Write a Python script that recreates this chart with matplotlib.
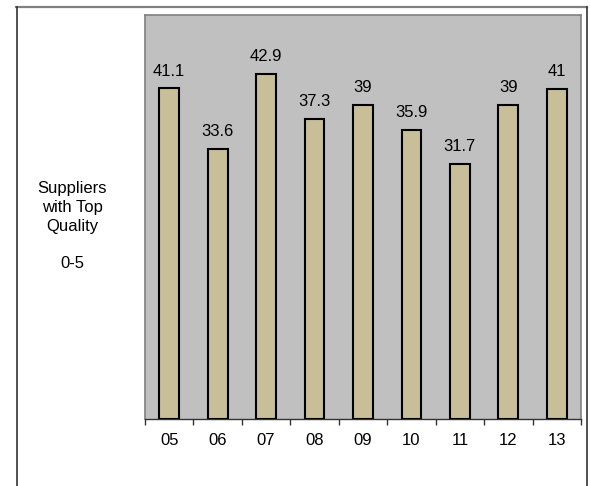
import matplotlib
matplotlib.use("Agg")
import matplotlib.pyplot as plt
from matplotlib.lines import Line2D
import numpy as np

plt.rcParams['font.family'] = ['Liberation Sans', 'DejaVu Sans']

years = ["05", "06", "07", "08", "09", "10", "11", "12", "13"]
values = [41.1, 33.6, 42.9, 37.3, 39, 35.9, 31.7, 39, 41]
value_labels = ["41.1", "33.6", "42.9", "37.3", "39", "35.9", "31.7", "39", "41"]
y_label = "Suppliers\nwith Top\nQuality\n\n0-5"

W, H = 590, 486
fig = plt.figure(figsize=(W / 100, H / 100), dpi=100)
fig.patch.set_facecolor("white")

# outer frame of the chart object
fig.add_artist(Line2D([16 / W, 587 / W], [1 - 7 / H, 1 - 7 / H], color="#808080", lw=1.6, transform=fig.transFigure))
fig.add_artist(Line2D([16.5 / W, 16.5 / W], [0, 1 - 7 / H], color="#333333", lw=1.2, transform=fig.transFigure))
fig.add_artist(Line2D([587 / W, 587 / W], [0, 1 - 7 / H], color="#333333", lw=1.2, transform=fig.transFigure))

ax = fig.add_axes([145 / W, (H - 419) / H, (581 - 145) / W, (419 - 15) / H])
ax.set_facecolor("#C0C0C0")

x = np.arange(len(years))
ax.bar(x, values, width=0.41, color="#C8BF99", edgecolor="black", linewidth=1.5, zorder=3)

for xi, v, lab in zip(x, values, value_labels):
    ax.annotate(lab, (xi, v), xytext=(0, 7), textcoords="offset points",
                ha="center", va="bottom", fontsize=12, color="black")

ax.set_xlim(-0.5, len(years) - 0.5)
ax.set_ylim(0, 50.2)

ax.set_xticks(x)
ax.set_xticklabels(years, fontsize=12)
ax.tick_params(axis="x", which="major", length=0, pad=10)
ax.set_xticks(np.arange(-0.5, len(years), 1.0), minor=True)
ax.tick_params(axis="x", which="minor", length=4, width=1, color="#333333", direction="out")
ax.set_yticks([])

for side in ["top", "right", "left"]:
    ax.spines[side].set_color("#808080")
    ax.spines[side].set_linewidth(1.2)
ax.spines["bottom"].set_color("#333333")
ax.spines["bottom"].set_linewidth(1.0)

fig.text(72 / W, 1 - 226 / H, y_label, ha="center", va="center", fontsize=12,
         linespacing=1.3, color="black")

fig.savefig("out.png", dpi=100)
